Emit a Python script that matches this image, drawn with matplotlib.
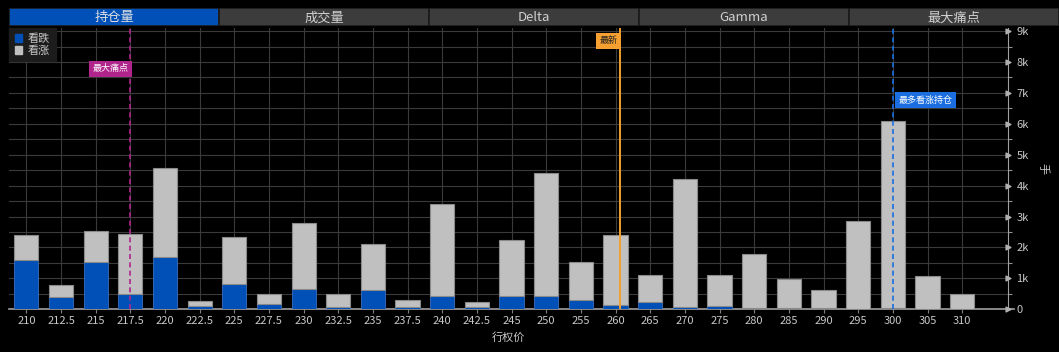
import matplotlib
matplotlib.use("Agg")
import matplotlib.pyplot as plt
import matplotlib.transforms as mtransforms
from matplotlib.patches import Rectangle, Patch
import numpy as np

plt.rcParams['font.family'] = ['Noto Sans CJK SC', 'DejaVu Sans']

strikes = ["210", "212.5", "215", "217.5", "220", "222.5", "225", "227.5", "230", "232.5",
           "235", "237.5", "240", "242.5", "245", "250", "255", "260", "265", "270",
           "275", "280", "285", "290", "295", "300", "305", "310"]
totals = [2400, 790, 2530, 2430, 4570, 280, 2330, 490, 2780, 505,
          2120, 300, 3410, 240, 2230, 4420, 1520, 2400, 1110, 4210,
          1110, 1780, 990, 615, 2860, 6090, 1090, 505]
puts = [1600, 410, 1540, 490, 1690, 120, 820, 160, 670, 65,
        615, 65, 440, 65, 440, 420, 290, 140, 235, 85,
        115, 40, 40, 40, 0, 40, 0, 0]
calls = [t - p for t, p in zip(totals, puts)]

tabs = ["持仓量", "成交量", "Delta", "Gamma", "最大痛点"]
ytick_vals = [0, 1000, 2000, 3000, 4000, 5000, 6000, 7000, 8000, 9000]
ytick_labels = ["0", "1k", "2k", "3k", "4k", "5k", "6k", "7k", "8k", "9k"]
maxpain_pos = 3        # 217.5
latest_pos = 17.12     # just above 260
maxcall_pos = 25       # 300

BLUE = "#0050b8"
GRAY = "#c0c0c0"
TXT = "#c8c8c8"
GRID = "#3a3a3a"

W, H = 1059, 352
fig = plt.figure(figsize=(W / 100, H / 100), dpi=100, facecolor="black")

# plot axes
L, R, B, T = 9, 1008, 309.3, 28
ax = fig.add_axes([L / W, 1 - B / H, (R - L) / W, (B - T) / H])
ax.set_facecolor("black")
x = np.arange(len(strikes))
ax.bar(x, puts, width=0.7, color=BLUE, edgecolor="#3a70c0", linewidth=0.6, zorder=3)
ax.bar(x, calls, bottom=puts, width=0.7, color=GRAY, edgecolor="#8a8a8a", linewidth=0.8, zorder=3)

ax.set_xlim(-0.5, 28.32)
ax.set_ylim(0, 9100)
ax.set_xticks(x)
ax.set_xticklabels(strikes)
ax.yaxis.tick_right()
ax.set_yticks(ytick_vals)
ax.set_yticklabels(ytick_labels)
ax.set_yticks(np.arange(500, 9100, 1000), minor=True)
ax.tick_params(axis="x", colors="#808080", labelcolor=TXT, labelsize=8, length=3, pad=2)
ax.tick_params(axis="y", which="major", colors="#b0b0b0", labelcolor=TXT, labelsize=8, length=0, pad=6)
ax.tick_params(axis="y", which="minor", colors="#909090", length=3, width=0.8)

ax.grid(True, which="both", axis="y", color=GRID, linewidth=0.8, zorder=0)
ax.grid(True, which="major", axis="x", color=GRID, linewidth=0.8, zorder=0)
for s in ["top", "left"]:
    ax.spines[s].set_visible(False)
ax.spines["right"].set_color("#a0a0a0")
ax.spines["bottom"].set_color("#a0a0a0")
ax.spines["bottom"].set_linewidth(1.2)

# triangle markers at y major ticks
tr = mtransforms.blended_transform_factory(ax.transAxes, ax.transData)
ax.scatter([1.0] * len(ytick_vals), ytick_vals, marker=">", s=12, color="#b0b0b0",
           transform=tr, clip_on=False, zorder=5)
ax.plot([1.0, 1.006], [0, 0], color="#a0a0a0", lw=1.2, transform=tr, clip_on=False)

ax.set_xlabel("行权价", color=TXT, fontsize=8, labelpad=4)
ax.set_ylabel("手", color=TXT, fontsize=8, labelpad=14, rotation=270, va="bottom")
ax.yaxis.set_label_position("right")

# marker lines
ax.axvline(maxpain_pos, color="#b0258c", linestyle=(0, (3, 2)), linewidth=1.2, zorder=4)
ax.axvline(latest_pos, color="#f5a030", linewidth=1.4, zorder=4)
ax.axvline(maxcall_pos, color="#1a6ee0", linestyle=(0, (3, 2)), linewidth=1.2, zorder=4)

ax.text(maxpain_pos - 0.06, 7780, "最大痛点", color="white", fontsize=6.5, ha="right", va="center",
        bbox=dict(boxstyle="square,pad=0.4", fc="#b0258c", ec="none"), zorder=6)
ax.text(latest_pos - 0.06, 8690, "最新", color="#222222", fontsize=6.5, ha="right", va="center",
        bbox=dict(boxstyle="square,pad=0.4", fc="#f5a030", ec="none"), zorder=6)
ax.text(maxcall_pos + 0.15, 6770, "最多看涨持仓", color="white", fontsize=6.5, ha="left", va="center",
        bbox=dict(boxstyle="square,pad=0.4", fc="#1a6ee0", ec="none"), zorder=6)

leg = ax.legend(handles=[Patch(color=BLUE, label="看跌"), Patch(color=GRAY, label="看涨")],
                loc="upper left", bbox_to_anchor=(0.0, 1.0), fontsize=8, frameon=True,
                facecolor="#1c1c1c", edgecolor="#1c1c1c", framealpha=1, fancybox=False,
                handlelength=0.7, handleheight=0.7, handletextpad=0.5, borderpad=0.5,
                labelspacing=0.1, borderaxespad=0.0)
for t in leg.get_texts():
    t.set_color(TXT)
leg.set_zorder(7)

# tab bar
tab_ax = fig.add_axes([9 / W, 1 - 26 / H, (1059 - 9) / W, 18 / H])
tab_ax.set_xlim(0, len(tabs))
tab_ax.set_ylim(0, 1)
tab_ax.axis("off")
for i, name in enumerate(tabs):
    fc = BLUE if i == 0 else "#3c3c3c"
    tab_ax.add_patch(Rectangle((i, 0), 1, 1, facecolor=fc, edgecolor="#1a1a1a", linewidth=1.2))
    tab_ax.text(i + 0.5, 0.45, name, color="#e0e0e0" if i == 0 else "#d0d0d0",
                fontsize=9.5, ha="center", va="center")

fig.savefig("out.png", dpi=100, facecolor="black")
